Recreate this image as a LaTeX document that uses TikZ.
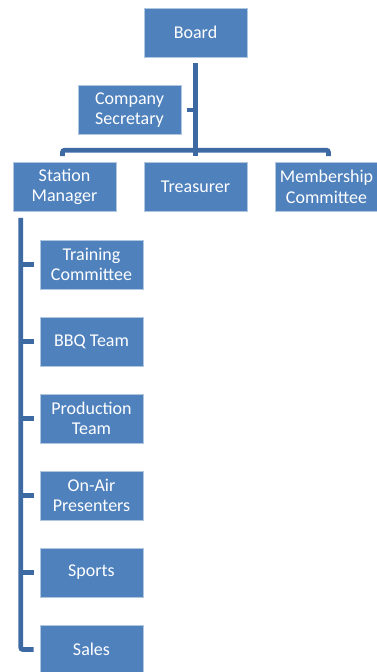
\documentclass[tikz,border=0pt]{standalone}
\usepackage{fontspec}
\setmainfont{Carlito}
\definecolor{boxblue}{RGB}{79,129,189}
\definecolor{linkblue}{RGB}{62,106,164}
\tikzset{
  unit/.style={rectangle, fill=boxblue, draw=boxblue!45!white, line width=0.6pt,
    minimum width=103pt, minimum height=49pt, inner sep=0pt, align=center,
    text=white, font=\fontsize{18}{20.5}\selectfont},
  link/.style={draw=linkblue, line width=4.6pt, rounded corners=2pt}
}
\begin{document}
\begin{tikzpicture}[x=1pt,y=1pt]
\useasboundingbox (0,0) rectangle (376,-672);

% top of the chart
\node[unit] (board) at (195.5,-32.5) {Board};
\node[unit] (secretary) at (129.5,-110) {Company\\Secretary};
\node[unit] (station) at (64.5,-187) {Station\\Manager};
\node[unit] (treasurer) at (195.5,-187) {Treasurer};
\node[unit] (member) at (326.5,-187) {Membership\\Committee};

\draw[link] ([yshift=-6pt]board.south) -- ([yshift=6pt]treasurer.north);
\draw[link] ([xshift=6pt]secretary.east) -- ([xshift=15pt]secretary.east);
\draw[link] ([xshift=-2pt,yshift=6pt]station.north) -- ++(0,6) -| ([xshift=2pt,yshift=6pt]member.north);

% station manager's teams
\coordinate (spine) at ([xshift=8pt,yshift=-6pt]station.south west);
\foreach \name/\label [count=\i] in {train/{Training\\Committee}, bbq/{BBQ Team},
    prod/{Production\\Team}, onair/{On-Air\\Presenters}, sports/Sports, sales/Sales}
{
  \node[unit] (\name) at (91.5,{-264.5-77*(\i-1)}) {\label};
}
\draw[link] (spine) |- ([xshift=-6pt]sales.west);
\foreach \name in {train,bbq,prod,onair,sports}
  \draw[link] (spine |- \name.west) -- ([xshift=-6pt]\name.west);
\end{tikzpicture}
\end{document}
